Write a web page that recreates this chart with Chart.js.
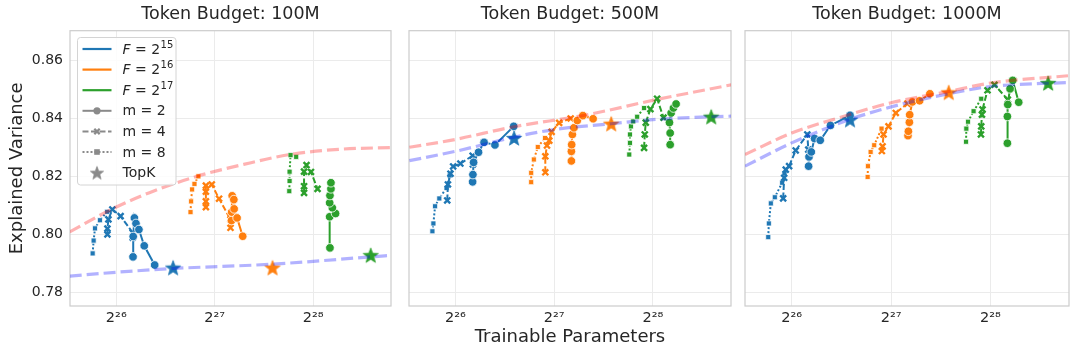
<!DOCTYPE html>
<html lang="en">
<head>
<meta charset="UTF-8">
<title>Explained Variance vs Trainable Parameters</title>
<script src="https://cdn.jsdelivr.net/npm/chart.js"></script>
<style>
  body { margin: 0; background: #fff; }
  #wrap { position: relative; width: 1080px; height: 360px; }
  #wrap canvas { position: absolute; top: 0; }
</style>
</head>
<body>
<div id="wrap">
  <canvas id="c100" width="400" height="360" style="left:0px;width:400px;height:360px"></canvas>
  <canvas id="c500" width="340" height="360" style="left:400px;width:340px;height:360px"></canvas>
  <canvas id="c1000" width="344" height="360" style="left:736px;width:344px;height:360px"></canvas>
</div>
<script>
// x values are log2(trainable parameters), y is explained variance
const xTicks = [26, 27, 28];
const yTicks = [0.78, 0.80, 0.82, 0.84, 0.86];
const xMin = 25.53, xMax = 28.79;
const yMin = 0.7754, yMax = 0.8701;

// ---- Token budget 100M ----
const t100_f15_m8 = [[25.76,0.7935],[25.77,0.7979],[25.784,0.8021],[25.834,0.8049],[25.907,0.8078]];
const t100_f15_m4 = [[25.91,0.8000],[25.91,0.8020],[25.92,0.8052],[25.96,0.8086],[26.044,0.8063],[26.167,0.8006],[26.167,0.7989]];
const t100_f15_m2 = [[26.17,0.7923],[26.172,0.7993],[26.184,0.8057],[26.2,0.8038],[26.23,0.8017],[26.284,0.7961],[26.39,0.7895]];
const t100_f16_m8 = [[26.754,0.8077],[26.76,0.8114],[26.77,0.8155],[26.794,0.8174],[26.834,0.8200]];
const t100_f16_m4 = [[26.91,0.8094],[26.91,0.8114],[26.91,0.8147],[26.91,0.8168],[26.97,0.8172],[27.044,0.8123],[27.16,0.8052],[27.16,0.8023]];
const t100_f16_m2 = [[27.17,0.8048],[27.172,0.8077],[27.177,0.8133],[27.194,0.8120],[27.197,0.8088],[27.227,0.8057],[27.284,0.7994]];
const t100_f17_m8 = [[27.757,0.8149],[27.76,0.8184],[27.76,0.8216],[27.77,0.8273],[27.827,0.8267]];
const t100_f17_m4 = [[27.907,0.8143],[27.907,0.8166],[27.907,0.8216],[27.932,0.8239],[27.977,0.8215],[28.044,0.8157]];
const t100_f17_m2 = [[28.17,0.7954],[28.167,0.8061],[28.227,0.8072],[28.194,0.8092],[28.167,0.8109],[28.17,0.8134],[28.18,0.8157],[28.18,0.8178]];
const t100_topk = [[26.577,0.7886],[27.587,0.7886],[28.584,0.7929]];
const t100_fitBest = [[25.527,0.8009],[25.96,0.8088],[26.33,0.8143],[26.827,0.8201],[27.294,0.8241],[27.76,0.8275],[28.26,0.8293],[28.787,0.8299]];
const t100_fitTopk = [[25.527,0.7857],[26.0,0.7870],[26.577,0.7883],[27.59,0.7898],[28.584,0.7923],[28.787,0.7928]];

// ---- Token budget 500M ----
const t500_f15_m8 = [[25.767,0.8011],[25.777,0.8038],[25.794,0.8097],[25.837,0.8124],[25.91,0.8160],[25.942,0.8203]];
const t500_f15_m4 = [[25.917,0.8117],[25.924,0.8172],[25.95,0.8209],[25.977,0.8234],[26.05,0.8244],[26.174,0.8271],[26.177,0.8241]];
const t500_f15_m2 = [[26.174,0.8181],[26.177,0.8206],[26.184,0.8248],[26.234,0.8283],[26.29,0.8317],[26.40,0.8308],[26.59,0.8372]];
const t500_f16_m8 = [[26.767,0.8180],[26.767,0.8212],[26.794,0.8258],[26.834,0.8301],[26.907,0.8332]];
const t500_f16_m4 = [[26.91,0.8214],[26.91,0.8269],[26.927,0.8306],[26.95,0.8323],[26.974,0.8353],[27.05,0.8384],[27.167,0.8399]];
const t500_f16_m2 = [[27.174,0.8253],[27.174,0.8286],[27.177,0.8309],[27.184,0.8344],[27.20,0.8367],[27.234,0.8392],[27.29,0.8409],[27.394,0.8398]];
const t500_f17_m8 = [[27.76,0.8275],[27.767,0.8315],[27.767,0.8344],[27.777,0.8372],[27.80,0.8389],[27.84,0.8405],[27.91,0.8435]];
const t500_f17_m4 = [[27.91,0.8298],[27.917,0.8344],[27.927,0.8385],[27.974,0.8431],[28.042,0.8467],[28.107,0.8402]];
const t500_f17_m2 = [[28.174,0.8309],[28.174,0.8349],[28.167,0.8385],[28.184,0.8418],[28.207,0.8435],[28.234,0.8449]];
const t500_topk = [[26.594,0.8332],[27.577,0.8381],[28.59,0.8405]];
const t500_fitBest = [[25.534,0.8300],[26.0,0.8327],[26.567,0.8369],[27.334,0.8412],[28.034,0.8464],[28.794,0.8515]];
const t500_fitTopk = [[25.534,0.8254],[26.0,0.8286],[26.594,0.8335],[27.0,0.8361],[27.577,0.8381],[28.0,0.8395],[28.59,0.8405],[28.794,0.8407]];

// ---- Token budget 1000M ----
const t1000_f15_m8 = [[25.764,0.7991],[25.77,0.8038],[25.79,0.8107],[25.83,0.8128],[25.904,0.8178],[25.927,0.8210]];
const t1000_f15_m4 = [[25.914,0.8124],[25.924,0.8195],[25.94,0.8223],[25.974,0.8235],[26.04,0.8289],[26.157,0.8344],[26.167,0.8292]];
const t1000_f15_m2 = [[26.17,0.8235],[26.174,0.8267],[26.197,0.8284],[26.23,0.8330],[26.287,0.8324],[26.39,0.8375],[26.587,0.8410]];
const t1000_f16_m8 = [[26.764,0.8198],[26.767,0.8235],[26.794,0.8284],[26.83,0.8307],[26.904,0.8364]];
const t1000_f16_m4 = [[26.907,0.8287],[26.914,0.8303],[26.924,0.8344],[26.974,0.8372],[27.047,0.8418],[27.164,0.8450]];
const t1000_f16_m2 = [[27.17,0.8340],[27.174,0.8355],[27.184,0.8386],[27.187,0.8412],[27.214,0.8456],[27.287,0.8460],[27.39,0.8484]];
const t1000_f17_m8 = [[27.754,0.8319],[27.757,0.8364],[27.774,0.8388],[27.83,0.8424],[27.907,0.8467]];
const t1000_f17_m4 = [[27.904,0.8344],[27.907,0.8372],[27.914,0.8412],[27.92,0.8430],[27.97,0.8496],[28.04,0.8515],[28.174,0.8464]];
const t1000_f17_m2 = [[28.17,0.8314],[28.17,0.8406],[28.174,0.8447],[28.197,0.8501],[28.224,0.8530],[28.284,0.8455]];
const t1000_topk = [[26.587,0.8395],[27.58,0.8489],[28.58,0.8521]];
const t1000_fitBest = [[25.53,0.8275],[26.0,0.8349],[26.45,0.8399],[27.0,0.8453],[27.58,0.8492],[28.0,0.8521],[28.78,0.8546]];
const t1000_fitTopk = [[25.53,0.8235],[26.0,0.8315],[26.58,0.8395],[27.0,0.8439],[27.58,0.8484],[28.0,0.8509],[28.78,0.8523]];

const FONT = '"DejaVu Sans", sans-serif';
const TEXT = '#262626';
const colors = ['#1f77b4', '#ff7f0e', '#2ca02c'];
const fExp = [15, 16, 17];
const mVals = [2, 4, 8];
const mStyles = {
  2: { pointStyle: 'circle', radius: 4.3, dash: [] },
  4: { pointStyle: 'crossRot', radius: 4.2, dash: [6, 2.5] },
  8: { pointStyle: 'rect', radius: 3.6, dash: [2, 2] }
};

const sup = n => String(n).split('').map(d => '⁰¹²³⁴⁵⁶⁷⁸⁹'[+d]).join('');

function starCanvas(color, r) {
  const s = Math.ceil(r * 2 + 2);
  const c = document.createElement('canvas');
  c.width = c.height = s;
  const g = c.getContext('2d');
  g.beginPath();
  for (let i = 0; i < 10; i++) {
    const rad = i % 2 ? r * 0.42 : r;
    const a = -Math.PI / 2 + i * Math.PI / 5;
    g.lineTo(s / 2 + rad * Math.cos(a), s / 2 + 0.8 + rad * Math.sin(a));
  }
  g.closePath();
  g.fillStyle = color;
  g.fill();
  g.lineWidth = 0.7;
  g.strokeStyle = color;
  g.stroke();
  return c;
}
const stars = colors.map(c => starCanvas(c, 8));

function seriesDataset(data, color, m) {
  const st = mStyles[m];
  const isCross = st.pointStyle === 'crossRot';
  return {
    data: data,
    showLine: true,
    borderColor: color,
    borderWidth: 2,
    borderDash: st.dash,
    pointStyle: st.pointStyle,
    pointRadius: st.radius,
    pointBackgroundColor: color,
    pointBorderColor: isCross ? color : '#ffffff',
    pointBorderWidth: isCross ? 2.4 : 0.8
  };
}

function fitDataset(data, color) {
  return {
    data: data,
    showLine: true,
    borderColor: color,
    borderWidth: 3.2,
    borderDash: [12, 5],
    pointRadius: 0,
    cubicInterpolationMode: 'monotone'
  };
}

const framePlugin = {
  id: 'frame',
  beforeDatasetsDraw(chart) {
    const { ctx, chartArea: a } = chart;
    ctx.save();
    ctx.strokeStyle = '#cccccc';
    ctx.lineWidth = 1.2;
    ctx.strokeRect(a.left, a.top, a.right - a.left, a.bottom - a.top);
    ctx.restore();
  }
};

const legendPlugin = {
  id: 'inlineLegend',
  afterDraw(chart) {
    const ctx = chart.ctx;
    const bx = 77.5, by = 37.5, bw = 98.5, bh = 147.5, r = 3;
    ctx.save();
    ctx.beginPath();
    ctx.moveTo(bx + r, by);
    ctx.arcTo(bx + bw, by, bx + bw, by + bh, r);
    ctx.arcTo(bx + bw, by + bh, bx, by + bh, r);
    ctx.arcTo(bx, by + bh, bx, by, r);
    ctx.arcTo(bx, by, bx + bw, by, r);
    ctx.closePath();
    ctx.fillStyle = 'rgba(255,255,255,0.85)';
    ctx.fill();
    ctx.strokeStyle = '#d4d4d4';
    ctx.lineWidth = 1;
    ctx.stroke();

    const rows = [49, 69.6, 90.2, 110.8, 131.4, 152, 172.6];
    const hx0 = 82.5, hx1 = 111.5, hc = 97, tx = 122.5;
    const gray = '#8a8a8a';
    ctx.textBaseline = 'middle';
    ctx.fillStyle = TEXT;

    // F entries
    fExp.forEach((e, i) => {
      const y = rows[i];
      ctx.strokeStyle = colors[i];
      ctx.lineWidth = 2.2;
      ctx.setLineDash([]);
      ctx.beginPath(); ctx.moveTo(hx0, y); ctx.lineTo(hx1, y); ctx.stroke();
      let x = tx;
      ctx.fillStyle = TEXT;
      ctx.font = 'italic 14px ' + FONT;
      ctx.fillText('F', x, y + 1);
      x += ctx.measureText('F').width;
      ctx.font = '14px ' + FONT;
      ctx.fillText(' = 2', x, y + 1);
      x += ctx.measureText(' = 2').width;
      ctx.font = '10px ' + FONT;
      ctx.fillText(String(e), x + 0.5, y - 4);
    });

    // m entries
    mVals.forEach((m, i) => {
      const y = rows[3 + i];
      const st = mStyles[m];
      ctx.strokeStyle = gray;
      ctx.lineWidth = 2;
      ctx.setLineDash(st.dash);
      ctx.beginPath(); ctx.moveTo(hx0, y); ctx.lineTo(hx1, y); ctx.stroke();
      ctx.setLineDash([]);
      ctx.fillStyle = gray;
      if (m === 2) {
        ctx.beginPath(); ctx.arc(hc, y, 3.6, 0, Math.PI * 2); ctx.fill();
      } else if (m === 4) {
        ctx.lineWidth = 2.2;
        const d = 2.7;
        ctx.beginPath();
        ctx.moveTo(hc - d, y - d); ctx.lineTo(hc + d, y + d);
        ctx.moveTo(hc + d, y - d); ctx.lineTo(hc - d, y + d);
        ctx.stroke();
      } else {
        ctx.fillRect(hc - 2.8, y - 2.8, 5.6, 5.6);
      }
      ctx.fillStyle = TEXT;
      ctx.font = '14px ' + FONT;
      ctx.fillText('m = ' + m, tx, y + 1);
    });

    // TopK entry
    const sy = rows[6];
    const gs = starCanvas(gray, 7);
    ctx.drawImage(gs, hc - gs.width / 2, sy - gs.height / 2);
    ctx.fillStyle = TEXT;
    ctx.font = '14px ' + FONT;
    ctx.fillText('TopK', tx, sy + 1);
    ctx.restore();
  }
};

function makeChart(id, budget, series, topk, fitBest, fitTopk, opts) {
  const datasets = [
    fitDataset(fitBest, 'rgba(255,0,0,0.3)'),
    fitDataset(fitTopk, 'rgba(0,0,255,0.3)'),
    {
      data: topk,
      showLine: false,
      pointStyle: stars,
      pointRadius: 8
    }
  ];
  series.forEach((row, fi) => {
    row.forEach((data, mi) => {
      datasets.push(seriesDataset(data, colors[fi], mVals[mi]));
    });
  });

  return new Chart(document.getElementById(id), {
    type: 'scatter',
    data: { datasets: datasets },
    options: {
      responsive: false,
      animation: false,
      events: [],
      layout: { padding: { left: 0, right: opts.padRight, top: 0, bottom: 0 } },
      plugins: {
        legend: { display: false },
        tooltip: { enabled: false },
        title: {
          display: true,
          fullSize: false,
          text: 'Token Budget: ' + budget,
          color: TEXT,
          font: { family: FONT, size: 17.5, weight: 'normal', lineHeight: 1.2 },
          padding: { top: 3.7, bottom: 6 }
        }
      },
      scales: {
        x: {
          type: 'linear',
          min: xMin,
          max: xMax,
          afterBuildTicks: s => { s.ticks = xTicks.map(v => ({ value: v })); },
          afterFit: s => { s.height = 54; },
          ticks: {
            callback: v => '2' + sup(v),
            color: TEXT,
            font: { family: FONT, size: 14.5 },
            padding: 3.5,
            maxRotation: 0,
            autoSkip: false
          },
          grid: { color: '#ebebeb', lineWidth: 1, drawTicks: false },
          border: { display: false },
          title: {
            display: opts.xTitle,
            text: 'Trainable Parameters',
            color: TEXT,
            font: { family: FONT, size: 18 },
            padding: { top: 0, bottom: 11.5 }
          }
        },
        y: {
          type: 'linear',
          min: yMin,
          max: yMax,
          afterBuildTicks: s => { s.ticks = yTicks.map(v => ({ value: v })); },
          afterFit: s => { s.width = opts.yWidth; },
          ticks: {
            display: opts.yLabels,
            callback: v => v.toFixed(2),
            color: TEXT,
            font: { family: FONT, size: 14 },
            padding: 7
          },
          grid: { color: '#ebebeb', lineWidth: 1, drawTicks: false },
          border: { display: false },
          title: {
            display: opts.yLabels,
            text: 'Explained Variance',
            color: TEXT,
            font: { family: FONT, size: 18 },
            padding: { top: 6.8, bottom: 0 }
          }
        }
      }
    },
    plugins: opts.legend ? [framePlugin, legendPlugin] : [framePlugin]
  });
}

makeChart('c100', '100M',
  [[t100_f15_m2, t100_f15_m4, t100_f15_m8],
   [t100_f16_m2, t100_f16_m4, t100_f16_m8],
   [t100_f17_m2, t100_f17_m4, t100_f17_m8]],
  t100_topk, t100_fitBest, t100_fitTopk,
  { padRight: 4, yWidth: 70, yLabels: true, xTitle: false, legend: true });

makeChart('c500', '500M',
  [[t500_f15_m2, t500_f15_m4, t500_f15_m8],
   [t500_f16_m2, t500_f16_m4, t500_f16_m8],
   [t500_f17_m2, t500_f17_m4, t500_f17_m8]],
  t500_topk, t500_fitBest, t500_fitTopk,
  { padRight: 7.3, yWidth: 6.7, yLabels: false, xTitle: true, legend: false });

makeChart('c1000', '1000M',
  [[t1000_f15_m2, t1000_f15_m4, t1000_f15_m8],
   [t1000_f16_m2, t1000_f16_m4, t1000_f16_m8],
   [t1000_f17_m2, t1000_f17_m4, t1000_f17_m8]],
  t1000_topk, t1000_fitBest, t1000_fitTopk,
  { padRight: 11, yWidth: 7.3, yLabels: false, xTitle: false, legend: false });
</script>
</body>
</html>
